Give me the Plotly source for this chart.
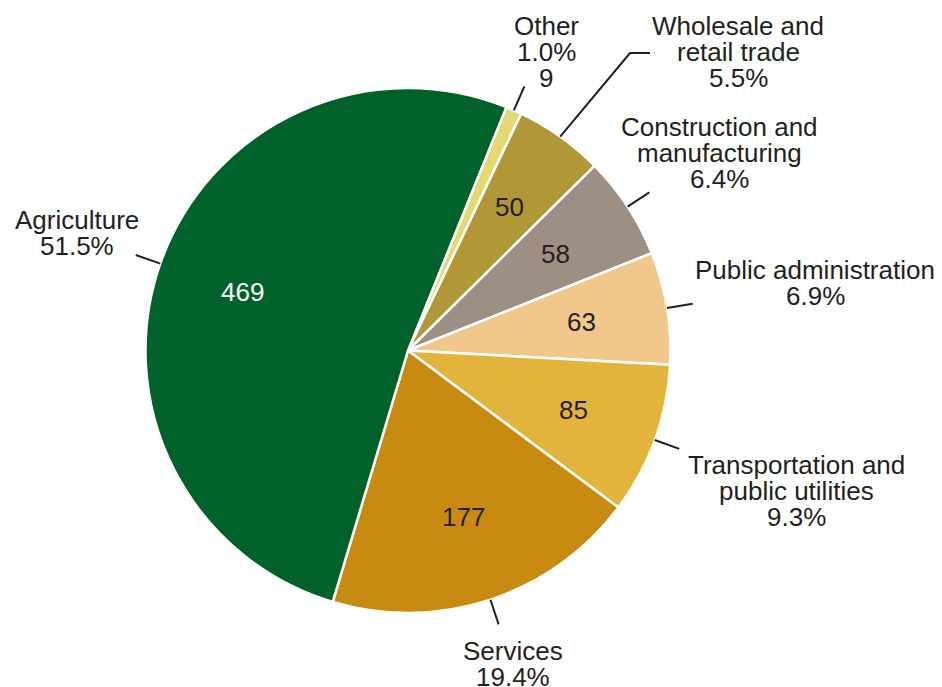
import math
import plotly.graph_objects as go

# ---- data ----
categories = ["Other", "Wholesale and retail trade", "Construction and manufacturing",
              "Public administration", "Transportation and public utilities",
              "Services", "Agriculture"]
label_lines = [["Other"], ["Wholesale and", "retail trade"], ["Construction and", "manufacturing"],
               ["Public administration"], ["Transportation and", "public utilities"],
               ["Services"], ["Agriculture"]]
values = [9, 50, 58, 63, 85, 177, 469]
colors = ["#E5D870", "#B19736", "#9E8F84", "#F2C78C", "#E3B43B", "#C98A12", "#00612A"]
value_inside = [False, True, True, True, True, True, True]
value_text_colors = ["#231F20", "#231F20", "#231F20", "#231F20", "#231F20", "#231F20", "#FFFFFF"]

# ---- layout geometry (pixels) ----
W, H = 942, 687
CX, CY, R = 408, 350.5, 262.5
ROTATION = 22
FONT = "Liberation Sans, Arial, Helvetica, sans-serif"
FS = 26
LINE = 26
TXT = "#231F20"

# label anchors: (center x, first baseline y)
label_pos = [(546, 35), (738, 35), (719, 136), (815, 279), (796, 474), (513, 660), (77, 229)]


def px2paper(px, py):
    return px / W, 1 - py / H


total = sum(values)
fig = go.Figure(go.Pie(
    labels=categories, values=values, sort=False, direction="clockwise",
    rotation=ROTATION,
    marker=dict(colors=colors, line=dict(color="white", width=2.5)),
    textinfo="none", hoverinfo="label+value+percent", showlegend=False,
    domain=dict(x=[(CX - R) / W, (CX + R) / W], y=[1 - (CY + R) / H, 1 - (CY - R) / H]),
))

annotations = []
shapes = []
cum = 0
for i, v in enumerate(values):
    mid = math.radians(ROTATION + (cum + v / 2) / total * 360)
    cum += v
    s, c = math.sin(mid), math.cos(mid)
    # inside value
    if value_inside[i]:
        x, y = px2paper(CX + 0.67 * R * s, CY - 0.67 * R * c)
        annotations.append(dict(x=x, y=y, xref="paper", yref="paper", text=str(v),
                                showarrow=False, xanchor="center", yanchor="middle",
                                font=dict(family=FONT, size=FS, color=value_text_colors[i])))
    # outside label lines
    lines = list(label_lines[i]) + [f"{v / total * 100:.1f}%"]
    if not value_inside[i]:
        lines.append(str(v))
    lx, ly = label_pos[i]
    for k, t in enumerate(lines):
        x, y = px2paper(lx, ly + k * LINE - 9)
        annotations.append(dict(x=x, y=y, xref="paper", yref="paper", text=t,
                                showarrow=False, xanchor="center", yanchor="middle",
                                borderpad=0,
                                font=dict(family=FONT, size=FS, color=TXT)))
    # leader line
    x0, y0 = CX + R * s, CY - R * c
    if categories[i].startswith("Wholesale"):
        pts = [(x0, y0), (630, 53), (650, 53)]
        path = "M " + " L ".join(f"{px2paper(a, b)[0]},{px2paper(a, b)[1]}" for a, b in pts)
        shapes.append(dict(type="path", path=path, xref="paper", yref="paper",
                           line=dict(color=TXT, width=2)))
    else:
        x1, y1 = CX + (R + 26) * s, CY - (R + 26) * c
        a0, b0 = px2paper(x0, y0)
        a1, b1 = px2paper(x1, y1)
        shapes.append(dict(type="line", x0=a0, y0=b0, x1=a1, y1=b1, xref="paper", yref="paper",
                           line=dict(color=TXT, width=2)))

fig.update_layout(width=W, height=H, margin=dict(l=0, r=0, t=0, b=0),
                  paper_bgcolor="white", plot_bgcolor="white",
                  annotations=annotations, shapes=shapes,
                  font=dict(family=FONT, size=FS, color=TXT))
fig.write_html("out.html", config={"displayModeBar": False},
               post_script="document.body.style.margin='0';document.body.style.overflow='hidden';")
